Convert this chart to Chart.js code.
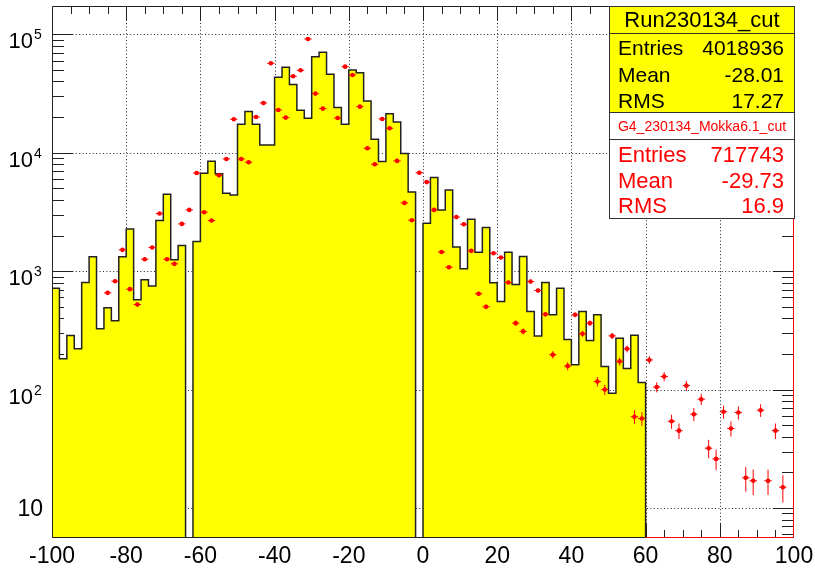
<!DOCTYPE html>
<html>
<head>
<meta charset="utf-8">
<script src="https://cdn.jsdelivr.net/npm/chart.js@4.4.0/dist/chart.umd.min.js"></script>
<style>
  html, body { margin: 0; padding: 0; background: #fff; }
  canvas { display: block; }
</style>
</head>
<body>
<canvas id="chart" width="815" height="568"></canvas>
<script>
// histogram binning: 100 bins of width 2 from -100 to 100
const binLow = -100;
const binWidth = 2;

// data (Run230134_cut), counts per bin
const dataCounts = [
  718, 182, 286, 221, 802, 1321, 326, 490, 381, 1321,
  2275, 573, 845, 751, 2675, 4463, 1246, 1645, 0, 1780,
  6710, 8470, 6630, 4550, 4405, 17400, 22250, 17400, 11640, 11640,
  43350, 52600, 37580, 22800, 19540, 64700, 70450, 45950, 24040, 17400,
  50000, 47450, 27370, 12990, 8420, 21380, 18200, 9830, 4670, 0,
  2541, 6165, 3290, 4850, 1600, 1046, 2744, 1445, 2334, 797,
  554, 1445, 770, 1329, 457, 284, 802, 428, 716, 265,
  162, 457, 260, 428, 157, 93, 272, 151, 288, 115,
  0, 0, 0, 0, 0, 0, 0, 0, 0, 0,
  0, 0, 0, 0, 0, 0, 0, 0, 0, 0
];

// simulation (G4_230134_Mokka6.1_cut), counts per bin, null = nothing drawn
const mcCounts = [
  null, null, null, null, null, null, null, 656, 823, 1513,
  705, 523, 1262, 1583, 3065, 1262, 1153, 2507, 3290, 6750,
  3145, 2675, 6450, 8860, 19170, 8860, 8310, 20050, 26320, 56900,
  22970, 19790, 44200, 49660, 91270, 31550, 23590, null, 19660, 53300,
  45350, 24500, 10900, 7990, 19290, 16090, 8530, 3770, 2690, 6780,
  5650, 3290, 1450, 1080, 2860, 2491, 1484, 644, 500, 1418,
  1303, 802, 364, 310, 817, 687, 433, 197, null, 158,
  428, 296, 364, 117, 100, 284, 173, 221, 59, 57,
  178, 105, 129, 54, 45, 108, 62, 83, 32, 26,
  65, 47, 64, 18, 17, 67, 17, 45, 15, null
];

const xTicks = [-100, -80, -60, -40, -20, 0, 20, 40, 60, 80, 100];
const yDecades = [10, 100, 1000, 10000, 100000];
const yMin = 5.585;
const yMax = 173300;

const statLabels = ['Entries', 'Mean', 'RMS'];
const dataStats = ['4018936', '-28.01', '17.27'];
const mcStats = ['717743', '-29.73', '16.9'];
const dataTitle = 'Run230134_cut';
const mcTitle = 'G4_230134_Mokka6.1_cut';

const FONT = '"Liberation Sans", Arial, Helvetica, sans-serif';

// step outline for the data histogram; empty bins sit on the axis floor
// (the log scale drops zeros, which would break the outline)
const stepPoints = [{ x: binLow, y: yMin }];
dataCounts.forEach((v, i) => stepPoints.push({ x: binLow + i * binWidth, y: Math.max(v, yMin) }));
stepPoints.push({ x: binLow + dataCounts.length * binWidth, y: yMin });

// simulation markers at bin centres
const mcPoints = [];
mcCounts.forEach((v, i) => {
  if (v !== null) mcPoints.push({ x: binLow + (i + 0.5) * binWidth, y: v });
});

const rootStyle = {
  id: 'rootStyle',
  beforeDatasetsDraw(chart) {
    const { ctx, chartArea: a, scales: { x, y } } = chart;
    ctx.save();
    // dotted grid
    ctx.strokeStyle = '#222';
    ctx.lineWidth = 1;
    ctx.setLineDash([1, 2.4]);
    ctx.beginPath();
    xTicks.forEach(v => {
      if (v <= x.min || v >= x.max) return;
      const px = Math.round(x.getPixelForValue(v)) + 0.5;
      ctx.moveTo(px, a.top);
      ctx.lineTo(px, a.bottom);
    });
    yDecades.forEach(v => {
      const py = Math.round(y.getPixelForValue(v)) + 0.5;
      ctx.moveTo(a.left, py);
      ctx.lineTo(a.right, py);
    });
    ctx.stroke();
    ctx.setLineDash([]);

    // tick marks on all four sides
    ctx.strokeStyle = '#222';
    ctx.beginPath();
    for (let v = x.min + 5; v < x.max; v += 5) {
      const px = Math.round(x.getPixelForValue(v)) + 0.5;
      const len = v % 20 === 0 ? 15 : 8;
      ctx.moveTo(px, a.bottom); ctx.lineTo(px, a.bottom - len);
      ctx.moveTo(px, a.top); ctx.lineTo(px, a.top + len);
    }
    for (let e = 0; e <= 5; e++) {
      for (let m = 1; m <= 9; m++) {
        const v = m * Math.pow(10, e);
        if (v <= y.min || v >= y.max) continue;
        const py = Math.round(y.getPixelForValue(v)) + 0.5;
        const len = m === 1 ? 21 : 12;
        ctx.moveTo(a.left, py); ctx.lineTo(a.left + len, py);
        ctx.moveTo(a.right, py); ctx.lineTo(a.right - len, py);
      }
    }
    ctx.stroke();
    ctx.restore();
  },
  afterDatasetsDraw(chart) {
    const { ctx, chartArea: a, scales: { x, y } } = chart;
    ctx.save();
    ctx.beginPath();
    ctx.rect(a.left, a.top, a.right - a.left, a.bottom - a.top);
    ctx.clip();
    // Poisson error bars on the simulation points
    ctx.strokeStyle = '#ff0000';
    ctx.lineWidth = 1;
    ctx.beginPath();
    mcPoints.forEach(p => {
      const err = Math.sqrt(p.y);
      const px = x.getPixelForValue(p.x);
      const py = y.getPixelForValue(p.y);
      const lo = p.y - err > 0 ? y.getPixelForValue(p.y - err) : a.bottom;
      const hi = y.getPixelForValue(p.y + err);
      ctx.moveTo(px, lo); ctx.lineTo(px, hi);
      ctx.moveTo(x.getPixelForValue(p.x - binWidth / 2), py);
      ctx.lineTo(x.getPixelForValue(p.x + binWidth / 2), py);
    });
    ctx.stroke();
    ctx.restore();

    // frame
    ctx.save();
    ctx.lineWidth = 1;
    ctx.strokeStyle = '#222';
    const l = a.left + 0.5, t = a.top + 0.5, r = a.right - 0.5, b = a.bottom - 0.5;
    const x60 = x.getPixelForValue(60);
    ctx.beginPath();
    ctx.moveTo(x60, b); ctx.lineTo(l, b); ctx.lineTo(l, t); ctx.lineTo(r, t);
    ctx.stroke();
    ctx.strokeStyle = '#ff0000';
    ctx.beginPath();
    ctx.moveTo(r, t); ctx.lineTo(r, b); ctx.lineTo(x60, b);
    ctx.stroke();
    ctx.restore();
  },
  afterDraw(chart) {
    const { ctx, chartArea: a, scales: { x, y } } = chart;
    ctx.save();
    ctx.fillStyle = '#000';
    // x labels
    ctx.font = '23px ' + FONT;
    ctx.textAlign = 'center';
    ctx.textBaseline = 'alphabetic';
    xTicks.forEach(v => ctx.fillText(String(v), x.getPixelForValue(v), 563));
    // y labels as powers of ten
    yDecades.forEach(v => {
      const py = y.getPixelForValue(v);
      const exp = Math.round(Math.log10(v));
      if (exp === 1) {
        ctx.font = '23px ' + FONT;
        ctx.textAlign = 'right';
        ctx.fillText('10', 43, py + 8.4);
      } else {
        ctx.font = '22px ' + FONT;
        ctx.textAlign = 'right';
        ctx.fillText('10', 33, py + 14);
        ctx.font = '14px ' + FONT;
        ctx.textAlign = 'left';
        ctx.fillText(String(exp), 34, py + 5);
      }
    });

    // stats boxes
    const bx = 609.5, bw = 185;
    function statBox(top, titleH, bodyH, fill, color, title, titleFont, titleBase, rowFont, rowBases, values) {
      ctx.fillStyle = fill;
      ctx.fillRect(bx, top, bw, titleH + bodyH);
      ctx.strokeStyle = '#333';
      ctx.lineWidth = 1;
      ctx.strokeRect(bx, top, bw, titleH + bodyH);
      ctx.beginPath();
      ctx.moveTo(bx, top + titleH); ctx.lineTo(bx + bw, top + titleH);
      ctx.stroke();
      ctx.fillStyle = color;
      ctx.font = titleFont;
      ctx.textAlign = 'center';
      ctx.fillText(title, bx + bw / 2, titleBase);
      ctx.font = rowFont;
      statLabels.forEach((lab, i) => {
        ctx.textAlign = 'left';
        ctx.fillText(lab, 618, rowBases[i]);
        ctx.textAlign = 'right';
        ctx.fillText(values[i], 784, rowBases[i]);
      });
    }
    statBox(6.5, 27, 79, '#ffff00', '#000', dataTitle, '22px ' + FONT, 27,
      '21px ' + FONT, [55, 81.7, 108.3], dataStats);
    statBox(112.5, 27, 79, '#ffffff', '#ff0000', mcTitle, '14px ' + FONT, 130.5,
      '22px ' + FONT, [161.7, 188.3, 213.3], mcStats);
    ctx.restore();
  }
};

new Chart(document.getElementById('chart').getContext('2d'), {
  type: 'line',
  data: {
    datasets: [
      {
        label: mcTitle,
        type: 'scatter',
        data: mcPoints,
        pointStyle: 'circle',
        pointRadius: 2.3,
        pointBackgroundColor: '#ff0000',
        pointBorderWidth: 0,
        showLine: false
      },
      {
        label: dataTitle,
        data: stepPoints,
        stepped: 'before',
        borderColor: '#222',
        borderWidth: 1.5,
        backgroundColor: '#ffff00',
        fill: 'start',
        pointRadius: 0
      }
    ]
  },
  options: {
    responsive: false,
    animation: false,
    devicePixelRatio: 1,
    layout: { padding: { left: 52, top: 6, right: 21, bottom: 30 } },
    scales: {
      x: { type: 'linear', min: -100, max: 100, display: false },
      y: { type: 'logarithmic', min: yMin, max: yMax, display: false }
    },
    plugins: { legend: { display: false }, tooltip: { enabled: false } }
  },
  plugins: [rootStyle]
});
</script>
</body>
</html>
